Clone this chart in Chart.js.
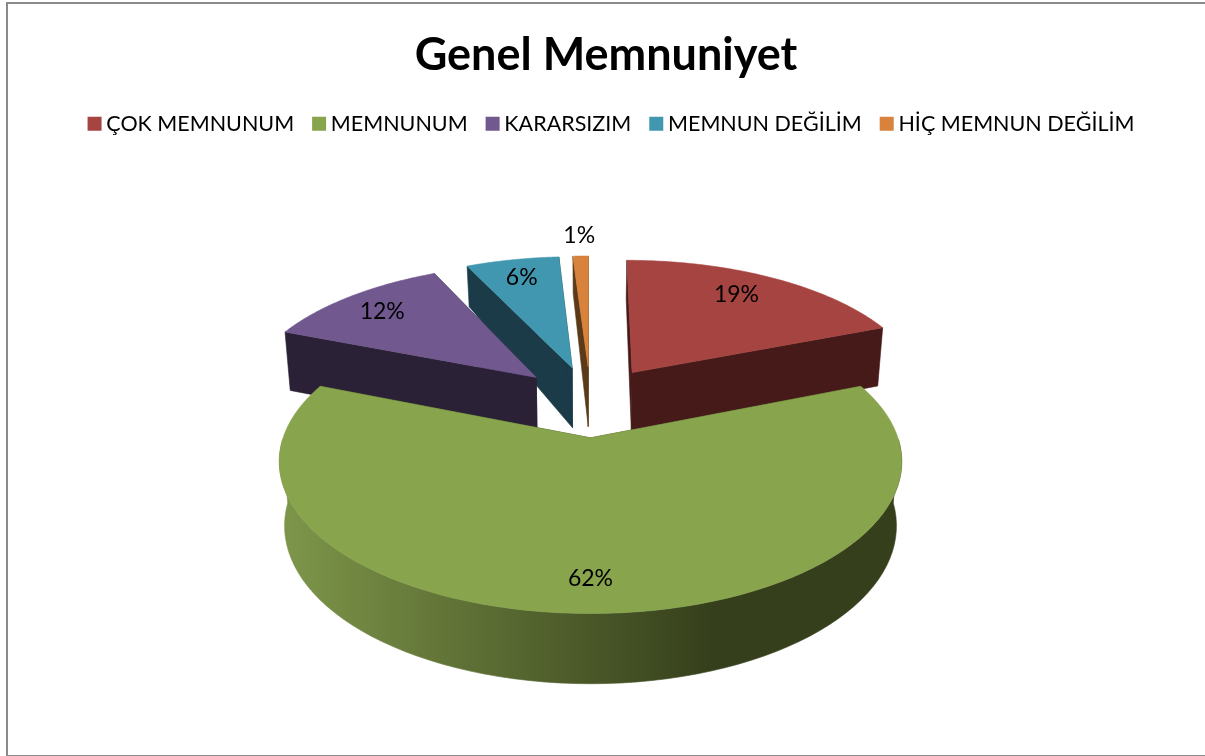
<!DOCTYPE html>
<html>
<head>
<meta charset="utf-8">
<style>
html, body { margin: 0; padding: 0; background: #fff; }
#frame { position: absolute; left: 6px; top: 2px; width: 1197px; height: 751px; border: 2px solid #8a8a8a; box-sizing: content-box; }
#wrap { position: absolute; left: 0; top: 0; width: 1205px; height: 756px; }
</style>
</head>
<body>
<div id="frame"></div>
<div id="wrap"><canvas id="grafico"></canvas></div>
<script src="https://cdn.jsdelivr.net/npm/chart.js@4/dist/chart.umd.min.js"></script>
<script>
// Datos
const etiquetas = ['ÇOK MEMNUNUM', 'MEMNUNUM', 'KARARSIZIM', 'MEMNUN DEĞİLİM', 'HİÇ MEMNUN DEĞİLİM'];
const valores = [19, 62, 12, 6, 1];
const titulo = 'Genel Memnuniyet';

const colores = ['#a64441', '#88a44d', '#71588f', '#4197af', '#d9823b'];
const coloresPared = ['#451a18', '#353f1b', '#2b2136', '#1a3b47', '#5a3a18'];
const coloresParedClaro = ['#451a18', '#7d9549', '#2b2136', '#1a3b47', '#5a3a18'];
const radioEtiqueta = [0.82, 0.82, 0.815, 0.825, 1.225];
const desvioEtiqueta = [-12, 0, 0, 0, 0];

// Vista en perspectiva del plano de la tarta
const VISTA = { cx: 590.5, cy: 401, ancho: 295.5, alto: 137, fuga: 0.15, encoge: 0.983 };
const FONDO = [[-1.23, 70], [0.2, 60], [0.65, 58], [1.2, 39]];

function proyectar(u, v) {
    const s = 1 / (1 + VISTA.fuga * v);
    return { x: VISTA.cx + VISTA.ancho * u * s, y: VISTA.cy - VISTA.alto * v * s };
}

function profundidad(v) {
    for (let i = 1; i < FONDO.length; i++) {
        if (v <= FONDO[i][0] || i === FONDO.length - 1) {
            const a = FONDO[i - 1], b = FONDO[i];
            return a[1] + (b[1] - a[1]) * (v - a[0]) / (b[0] - a[0]);
        }
    }
}

function abajo(u, v) {
    const p = proyectar(u, v);
    return { x: VISTA.cx + (p.x - VISTA.cx) * VISTA.encoge, y: p.y + profundidad(v) };
}

function poligono(ctx, puntos, relleno) {
    ctx.beginPath();
    puntos.forEach((p, i) => i ? ctx.lineTo(p.x, p.y) : ctx.moveTo(p.x, p.y));
    ctx.closePath();
    ctx.fillStyle = relleno;
    ctx.strokeStyle = relleno;
    ctx.lineWidth = 0.6;
    ctx.fill();
    ctx.stroke();
}

// Lee cada porción del elemento de Chart.js y la pinta en 3D
function geometria(el) {
    const medio = (el.startAngle + el.endAngle) / 2;
    const e = el.options.offset / el.outerRadius;
    const ou = Math.cos(medio) * e, ov = -Math.sin(medio) * e;
    const borde = [];
    const pasos = 90;
    for (let i = 0; i <= pasos; i++) {
        const a = el.startAngle + (el.endAngle - el.startAngle) * i / pasos;
        borde.push({ u: ou + Math.cos(a), v: ov - Math.sin(a), frente: Math.sin(a) > 0 });
    }
    return { medio, ou, ov, borde };
}

const tarta3d = {
    id: 'tarta3d',
    afterLayout(chart) {
        // la leyenda va algo a la derecha del centro
        chart.legend.left += 8;
        chart.legend.right += 8;
    },
    beforeDatasetsDraw(chart) {
        const ctx = chart.ctx;
        const arcos = chart.getDatasetMeta(0).data;
        const orden = arcos.map((el, i) => ({ el, i, g: geometria(el) }))
            .sort((a, b) => -Math.sin(b.g.medio) + Math.sin(a.g.medio));
        ctx.save();
        orden.forEach(({ i, g }) => {
            const pa = g.borde.map(b => proyectar(b.u, b.v));
            const frente = g.borde.filter(b => b.frente);
            const centro = proyectar(g.ou, g.ov), centroB = abajo(g.ou, g.ov);
            const ini = g.borde[0], fin = g.borde[g.borde.length - 1];
            // paredes rectas
            poligono(ctx, [centro, pa[0], abajo(ini.u, ini.v), centroB], coloresPared[i]);
            poligono(ctx, [centro, pa[pa.length - 1], abajo(fin.u, fin.v), centroB], coloresPared[i]);
            // pared curva, solo la parte que mira al frente
            if (frente.length > 1) {
                const grad = ctx.createLinearGradient(285, 0, 897, 0);
                grad.addColorStop(0, coloresParedClaro[i]);
                grad.addColorStop(0.7, coloresPared[i]);
                grad.addColorStop(1, coloresPared[i]);
                const arriba = frente.map(b => proyectar(b.u, b.v));
                const debajo = frente.map(b => abajo(b.u, b.v)).reverse();
                poligono(ctx, arriba.concat(debajo), grad);
            }
            // cara superior
            poligono(ctx, [centro].concat(pa), colores[i]);
        });
        // etiquetas de porcentaje
        ctx.fillStyle = '#000';
        ctx.font = '23px Lato';
        ctx.textAlign = 'center';
        ctx.textBaseline = 'middle';
        orden.forEach(({ i, g }) => {
            const d = radioEtiqueta[i];
            const p = proyectar(g.ou + Math.cos(g.medio) * d, g.ov - Math.sin(g.medio) * d);
            ctx.fillText(valores[i] + '%', p.x + desvioEtiqueta[i], p.y + 1);
        });
        ctx.restore();
        return false;
    }
};

new Chart(document.getElementById('grafico').getContext('2d'), {
    type: 'pie',
    data: {
        labels: etiquetas,
        datasets: [{ data: valores, backgroundColor: colores, borderWidth: 0, offset: 70 }]
    },
    options: {
        responsive: true,
        maintainAspectRatio: false,
        animation: false,
        layout: { padding: { left: 7, top: 22 } },
        plugins: {
            tooltip: { enabled: false },
            title: {
                display: true,
                text: titulo,
                color: '#000',
                font: { family: 'Lato', size: 45, weight: 'bold' },
                padding: { top: 6, bottom: 7 }
            },
            legend: {
                position: 'top',
                labels: {
                    color: '#000',
                    font: { family: 'Lato', size: 21.5 },
                    usePointStyle: true,
                    pointStyle: 'rect',
                    boxWidth: 2,
                    boxHeight: 14,
                    padding: 24
                }
            }
        }
    },
    plugins: [tarta3d]
});
</script>
</body>
</html>
